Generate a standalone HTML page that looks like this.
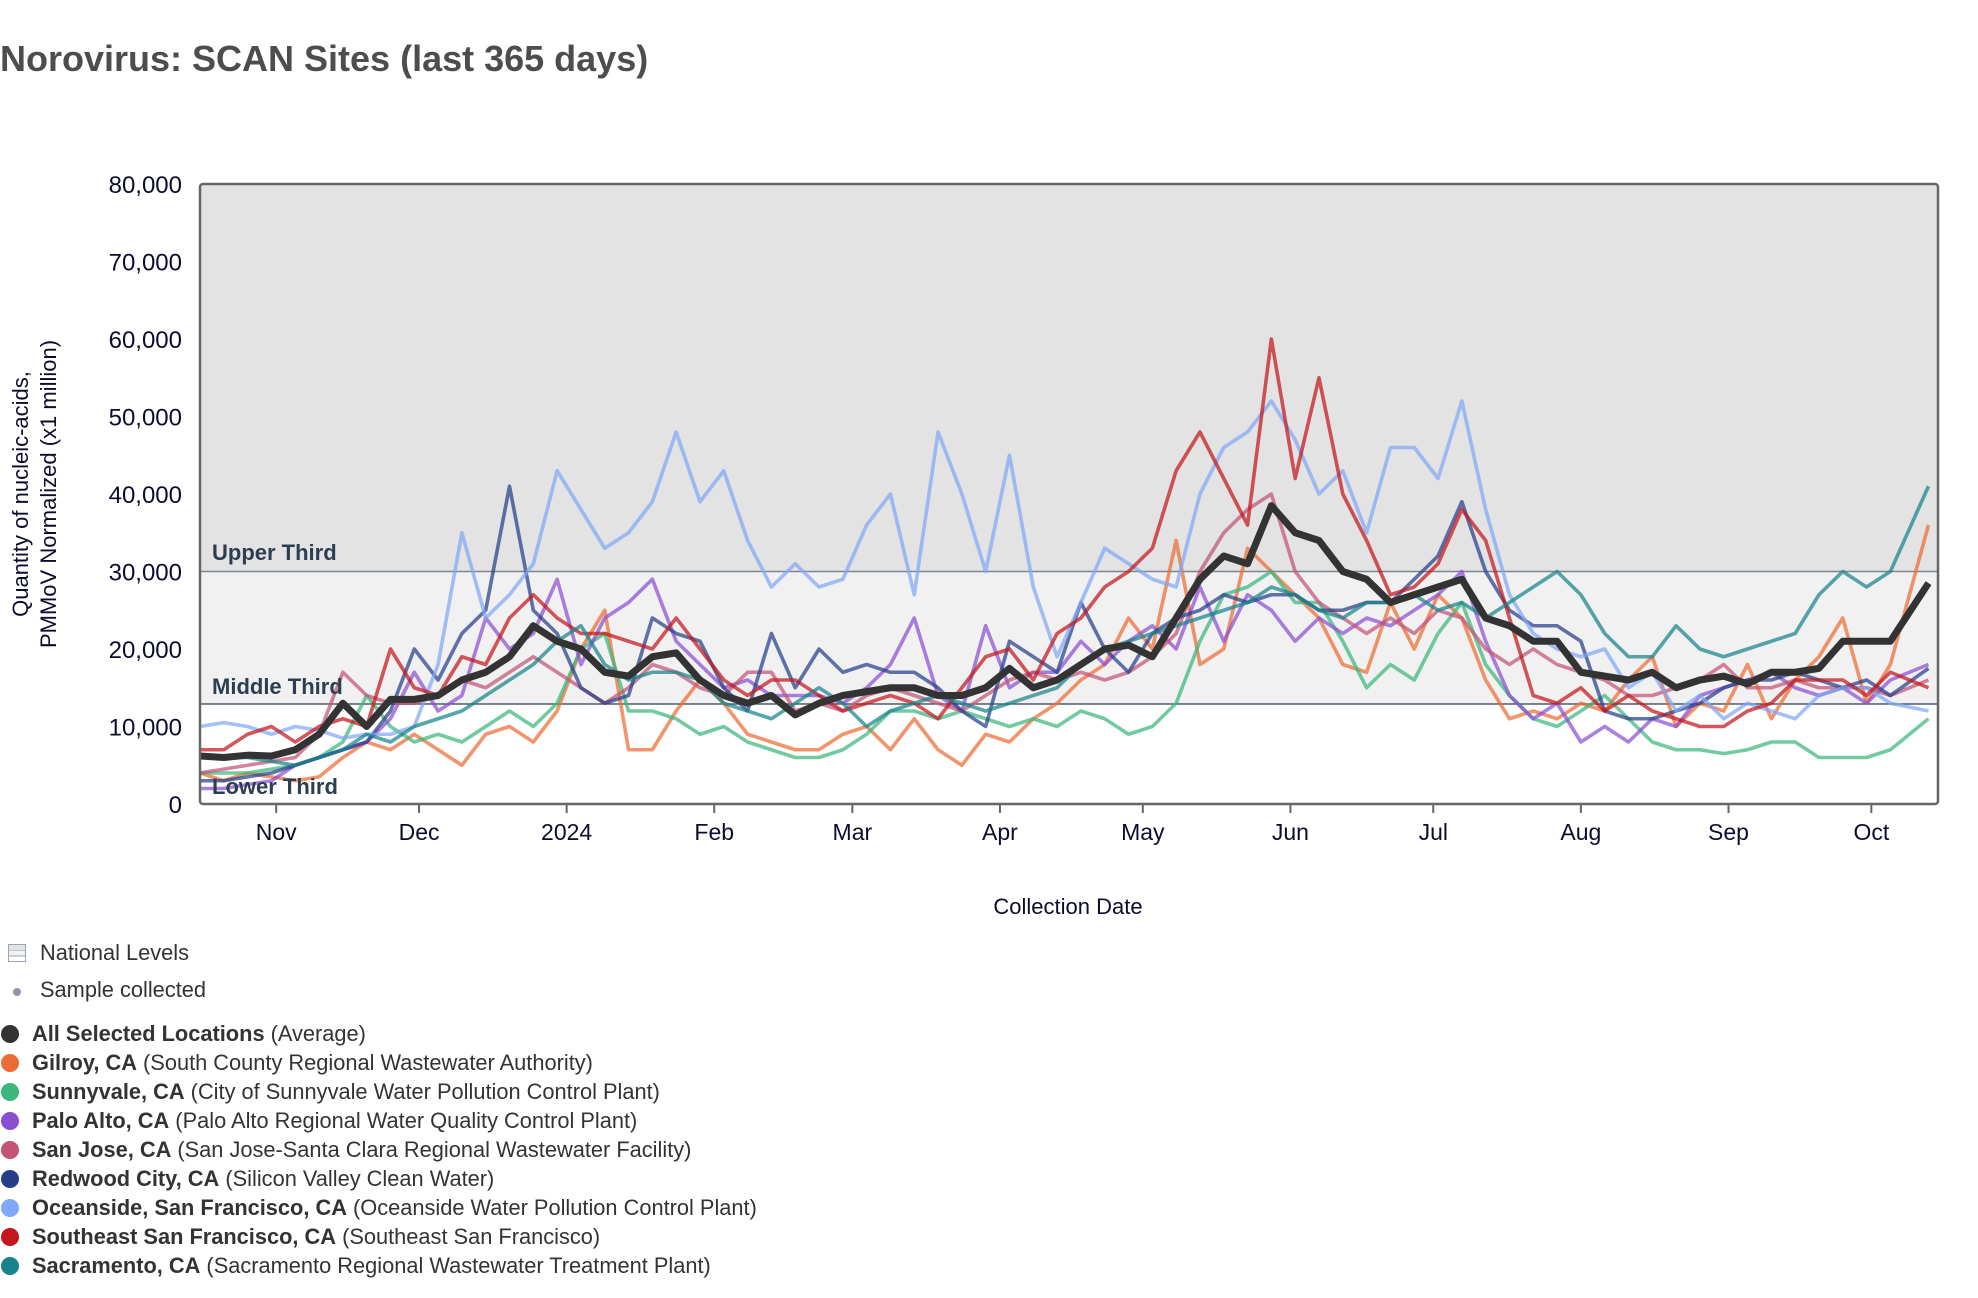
<!DOCTYPE html>
<html><head><meta charset="utf-8"><style>
body{margin:0;background:#fff;font-family:"Liberation Sans",Arial,sans-serif;}
#wrap{position:relative;width:1978px;height:1298px;overflow:hidden;}
.lg{position:absolute;left:0;font-size:21.8px;color:#333;white-space:nowrap;}
.lg b{font-weight:bold;}
.dot{position:absolute;left:1px;width:18px;height:18px;border-radius:50%;}
</style></head><body>
<div id="wrap">
<div style="position:absolute;left:0;top:38px;font-size:36px;font-weight:bold;color:#4d4d4d;">Norovirus: SCAN Sites (last 365 days)</div>
<svg id="chart" width="1978" height="940" style="position:absolute;left:0;top:0"></svg>
<div class="lg" style="top:940px;left:40px;"><span style="position:absolute;left:-32px;top:4px;width:16px;height:16px;border:1px solid #9aa5b5;background:linear-gradient(#e3e3e3 0 33%,#9aa5b5 33% 38%,#f1f1f1 38% 66%,#9aa5b5 66% 71%,#fff 71%);"></span>National Levels</div>
<div class="lg" style="top:977px;left:40px;"><span style="position:absolute;left:-27px;top:11px;width:8px;height:8px;border-radius:50%;background:#8e96a8;"></span>Sample collected</div>
<div id="legend"></div>
</div>
<script>
// ---- data (values in thousands, PMMoV normalized) ----
const dayOffsets = [0,5,10,15,20,25,30,35,40,45,50,55,60,65,70,75,80,85,90,95,100,105,110,115,120,125,130,135,140,145,150,155,160,165,170,175,180,185,190,195,200,205,210,215,220,225,230,235,240,245,250,255,260,265,270,275,280,285,290,295,300,305,310,315,320,325,330,335,340,345,350,355,363];
const yTicks = [0,10000,20000,30000,40000,50000,60000,70000,80000];
const monthTicks = ["2023-11-01","2023-12-01","2024-01-01","2024-02-01","2024-03-01","2024-04-01","2024-05-01","2024-06-01","2024-07-01","2024-08-01","2024-09-01","2024-10-01"];
const monthLabels = ["Nov","Dec","2024","Feb","Mar","Apr","May","Jun","Jul","Aug","Sep","Oct"];
const thresholds = [12900,30000];
const gilroy = [4,3,4,3.5,3,3.5,6,8,7,9,7,5,9,10,8,12,20,25,7,7,12,16,13,9,8,7,7,9,10,7,11,7,5,9,8,11,13,16,18,24,20,34,18,20,33,30,27,24,18,17,26,20,27,24,16,11,12,11,13,12,16,19,10,13,12,18,11,16,19,24,13,18,36];
const sunnyvale = [4,4,4,4.5,5,6,8,14,10,8,9,8,10,12,10,13,20,22,12,12,11,9,10,8,7,6,6,7,9,12,12,11,12,11,10,11,10,12,11,9,10,13,21,27,28,30,26,26,21,15,18,16,22,26,18,14,11,10,12,14,11,8,7,7,6.5,7,8,8,6,6,6,7,11];
const paloAlto = [2,2,2.5,3,5,6,7,8,11,17,12,14,24,20,22,29,18,24,26,29,21,18,15,16,14,14,14,13,15,18,24,14,12,23,15,17,17,21,18,21,23,20,28,21,27,25,21,24,22,24,23,25,27,30,21,14,11,13,8,10,8,11,10,14,15,16,17,15,14,15,13,16,18];
const sanJose = [4,4.5,5,5.5,6,9,17,14,13,13,14,16,15,17,19,17,15,13,15,18,17,15,14,17,17,12,13,12,14,15,14,13,12,14,16,17,16,17,16,17,19,22,30,35,38,40,30,26,24,22,24,22,25,24,20,18,20,18,17,16,14,14,15,16,18,15,15,16,15,15,15,14,16];
const redwood = [3,3,3.5,4,5,6,7,8,12,20,16,22,25,41,25,22,15,13,14,24,22,21,15,12,22,15,20,17,18,17,17,15,12,10,21,19,17,26,20,17,22,24,25,27,26,27,27,25,25,26,26,29,32,39,30,25,23,23,21,12,11,11,12,13,15,16,16,17,16,15,16,14,17.5];
const oceanside = [10,10.5,10,9,10,9.5,8.5,9,9,10,18,35,24,27,31,43,38,33,35,39,48,39,43,34,28,31,28,29,36,40,27,48,40,30,45,28,19,26,33,31,29,28,40,46,48,52,47,40,43,35,46,46,42,52,38,27,22,20,19,20,15,17,12,14,11,13,12,11,14,15,15,13,12];
const seSF = [7,7,9,10,8,10,11,10,20,15,14,19,18,24,27,24,22,22,21,20,24,20,16,14,16,16,14,12,13,14,13,11,15,19,20,16,22,24,28,30,33,43,48,42,36,60,42,55,40,34,27,28,31,38,34,24,14,13,15,12,14,12,11,10,10,12,13,16,16,16,14,17,15];
const sacramento = [6,6,6,5.5,5,6,7,9,8,10,11,12,14,16,18,21,23,18,16,17,17,16,13,12,11,13,15,13,10,12,13,14,13,12,13,14,15,18,20,21,22,23,24,25,26,28,27,25,24,26,26,27,25,26,24,26,28,30,27,22,19,19,23,20,19,20,21,22,27,30,28,30,41];
const average = [6.2,6,6.3,6.2,7,9,13,10,13.5,13.5,14,16,17,19,23,21,20,17,16.5,19,19.5,16,14,13,14,11.5,13,14,14.5,15,15,14,14,15,17.5,15,16,18,20,20.5,19,24,29,32,31,38.5,35,34,30,29,26,27,28,29,24,23,21,21,17,16.5,16,17,15,16,16.5,15.5,17,17,17.5,21,21,21,28.5];
const seriesNames = ["Gilroy, CA","Sunnyvale, CA","Palo Alto, CA","San Jose, CA","Redwood City, CA","Oceanside, San Francisco, CA","Southeast San Francisco, CA","Sacramento, CA"];
const seriesSites = ["South County Regional Wastewater Authority","City of Sunnyvale Water Pollution Control Plant","Palo Alto Regional Water Quality Control Plant","San Jose-Santa Clara Regional Wastewater Facility","Silicon Valley Clean Water","Oceanside Water Pollution Control Plant","Southeast San Francisco","Sacramento Regional Wastewater Treatment Plant"];
const seriesData = [gilroy,sunnyvale,paloAlto,sanJose,redwood,oceanside,seSF,sacramento];
const seriesColors = ["#ed6c35","#3bb77b","#8a4fd1","#c45376","#273f8a","#80a8f7","#c4161c","#16848a"];

// ---- layout ----
const L=200,R=1938,T=184,B=804;
const start=new Date("2023-10-16T00:00:00Z").getTime(), DAY=86400000, SPAN=365;
const x=d=>L+(d/SPAN)*(R-L);
const xDate=s=>x((new Date(s+"T00:00:00Z").getTime()-start)/DAY);
const y=v=>B-(v/80000)*(B-T);
const NS="http://www.w3.org/2000/svg";
const svg=document.getElementById("chart");
function mk(tag,attrs,parent){const e=document.createElementNS(NS,tag);for(const k in attrs)e.setAttribute(k,attrs[k]);(parent||svg).appendChild(e);return e;}

const defs=mk("defs",{});
const cp=mk("clipPath",{id:"clip"},defs);
mk("rect",{x:L,y:T,width:R-L,height:B-T},cp);

let r=mk("rect",{x:L,y:T,width:R-L,height:y(thresholds[1])-T,fill:"#e3e3e3"});


r=mk("rect",{x:L,y:y(thresholds[1]),width:R-L,height:y(thresholds[0])-y(thresholds[1]),fill:"#f1f1f1"});


let ln=mk("line",{x1:L,x2:R,y1:y(thresholds[1]),y2:y(thresholds[1]),stroke:"#7d8590","stroke-width":1.5});


ln=mk("line",{x1:L,x2:R,y1:y(thresholds[0]),y2:y(thresholds[0]),stroke:"#2c3e50","stroke-width":1.2});



const g=mk("g",{"clip-path":"url(#clip)"});
seriesData.forEach((arr,i)=>{
  const p=mk("polyline",{points:arr.map((v,j)=>x(dayOffsets[j])+","+y(v*1000)).join(" "),fill:"none",stroke:seriesColors[i],"stroke-width":3.6,"stroke-opacity":0.72,"stroke-linejoin":"round"},g);
  
  
});
const avg=mk("polyline",{points:average.map((v,j)=>x(dayOffsets[j])+","+y(v*1000)).join(" "),fill:"none",stroke:"#333","stroke-width":7,"stroke-linejoin":"round"},g);



const lbls=[["Upper Third",560],["Middle Third",694],["Lower Third",794]];
lbls.forEach(l=>{const t=mk("text",{x:212,y:l[1],"font-size":22,"font-weight":"bold",fill:"#2c3e50"});t.textContent=l[0];
  
  });

const frame=mk("rect",{x:L,y:T,width:R-L,height:B-T,rx:3,fill:"none",stroke:"#666","stroke-width":2.5});



yTicks.forEach(v=>{const t=mk("text",{x:182,y:y(v)+9,"text-anchor":"end","font-size":24,fill:"#0c0c2e"});t.textContent=v.toLocaleString("en-US");
  
  });
monthTicks.forEach((m,i)=>{const xx=xDate(m);
  const tk=mk("line",{x1:xx,x2:xx,y1:B,y2:B+9,stroke:"#666","stroke-width":2});
  
  
  const t=mk("text",{x:xx,y:840,"text-anchor":"middle","font-size":23,fill:"#0c0c2e"});t.textContent=monthLabels[i];
  
  });
let t=mk("text",{x:1068,y:914,"text-anchor":"middle","font-size":22,fill:"#0c0c2e"});t.textContent="Collection Date";


const yt=mk("text",{transform:"translate(28,494) rotate(-90)","text-anchor":"middle","font-size":22,fill:"#0c0c2e"});


const s1=mk("tspan",{x:0,dy:0},yt);s1.textContent="Quantity of nucleic-acids,";
const s2=mk("tspan",{x:0,dy:28},yt);s2.textContent="PMMoV Normalized (x1 million)";

// legend
const lg=document.getElementById("legend");
const entries=[["All Selected Locations","Average","#333"]].concat(seriesNames.map((n,i)=>[n,seriesSites[i],seriesColors[i]]));
entries.forEach((e,i)=>{
  const d=document.createElement("div");
  d.className="lg";
  d.style.top=(1021+i*29)+"px";
  d.style.left="32px";
  
  
  d.innerHTML='<span class="dot" style="left:-31px;top:4px;background:'+e[2]+'"></span><b>'+e[0]+'</b> ('+e[1]+')';
  lg.appendChild(d);
});
</script>
</body></html>
